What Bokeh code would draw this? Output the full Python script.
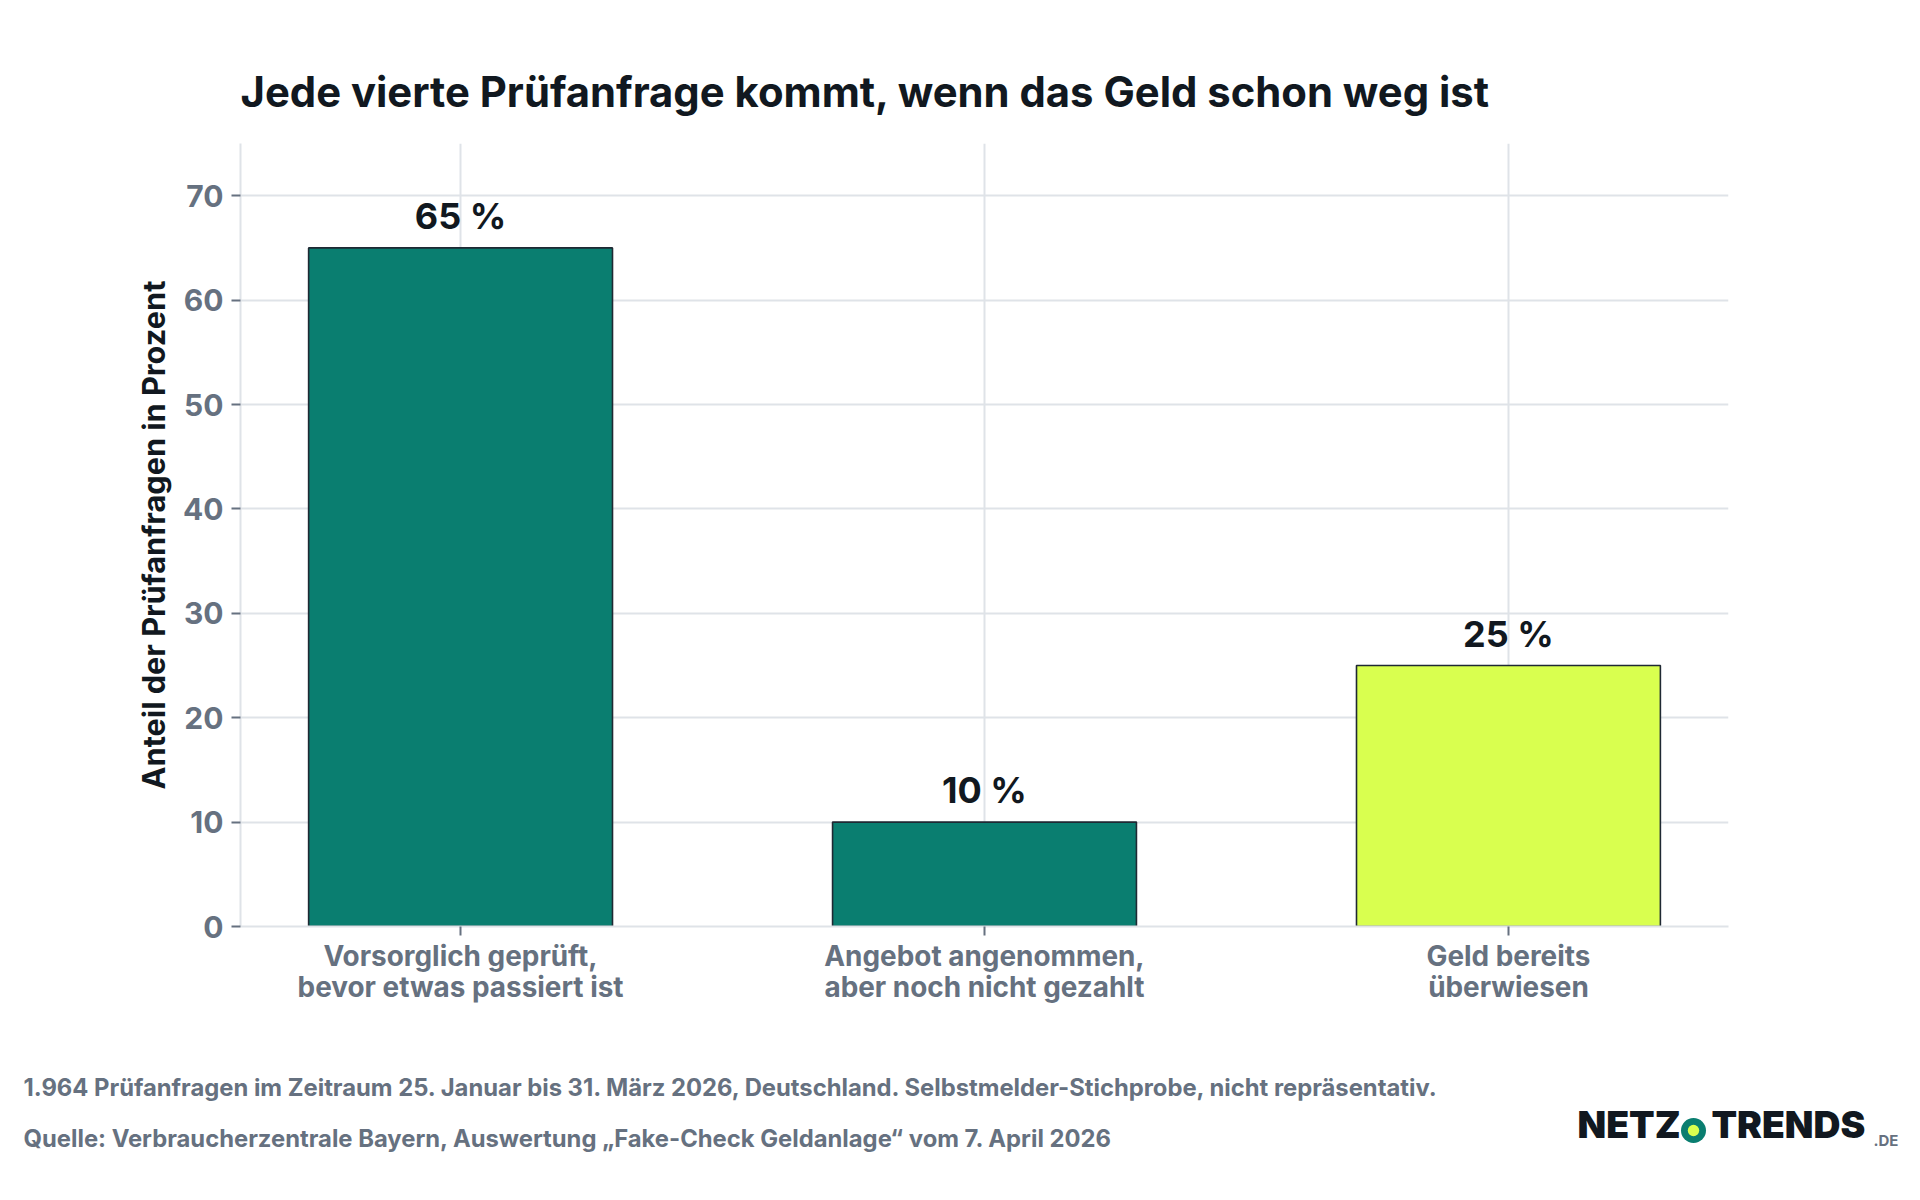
from bokeh.plotting import figure
from bokeh.layouts import column, row
from bokeh.core.properties import value
from bokeh.models import ColumnDataSource, FixedTicker, Range1d, LabelSet
from bokeh.embed import file_html
from bokeh.resources import INLINE

title = "Jede vierte Prüfanfrage kommt, wenn das Geld schon weg ist"
y_label = "Anteil der Prüfanfragen in Prozent"
categories = ["Vorsorglich geprüft,\nbevor etwas passiert ist",
              "Angebot angenommen,\naber noch nicht gezahlt",
              "Geld bereits\nüberwiesen"]
values = [65, 10, 25]
bar_colors = ["#0a7e70", "#0a7e70", "#d9ff4f"]
y_ticks = [0, 10, 20, 30, 40, 50, 60, 70]
footnotes = ["1.964 Prüfanfragen im Zeitraum 25. Januar bis 31. März 2026, Deutschland. Selbstmelder-Stichprobe, nicht repräsentativ.",
             "Quelle: Verbraucherzentrale Bayern, Auswertung „Fake-Check Geldanlage“ vom 7. April 2026"]

INK = "#111820"
GREY = "#667180"
GRID = "#dfe3e8"
FONT = "Inter"
W, H = 1904, 1184
TOP_H = 1040
F_L, F_B = 240, 926

xs = list(range(len(categories)))
src = ColumnDataSource(dict(x=xs, top=values, color=bar_colors,
                            label=[f"{v} %" for v in values]))

p = figure(width=W, height=TOP_H, output_backend="svg", toolbar_location=None,
           x_range=Range1d(-0.42, 2.42), y_range=Range1d(0, 75),
           min_border_left=F_L, min_border_right=W - 1728,
           min_border_top=143, min_border_bottom=TOP_H - F_B,
           outline_line_color=None, background_fill_color="white")

p.title.text = title
p.title.align = "left"
p.title.text_font = FONT
p.title.text_font_size = "41.8px"
p.title.text_font_style = "bold"
p.title.text_color = INK
p.title.standoff = 54

p.vbar(x="x", top="top", bottom=0, width=0.58, source=src, fill_color="color",
       line_color="#1f2933", line_width=1.6)
p.add_layout(LabelSet(x="x", y="top", text="label", source=src, text_align="center",
                      text_baseline="bottom", y_offset=10, text_font=value(FONT),
                      text_font_size=value("36px"), text_font_style="bold", text_color=INK))

p.xaxis.ticker = FixedTicker(ticks=xs)
p.xaxis.major_label_overrides = {i: c for i, c in zip(xs, categories)}
p.yaxis.ticker = FixedTicker(ticks=y_ticks)
p.yaxis.axis_label = y_label
p.yaxis.axis_label_text_font = FONT
p.yaxis.axis_label_text_font_size = "30.7px"
p.yaxis.axis_label_text_font_style = "bold"
p.yaxis.axis_label_text_color = INK
p.yaxis.axis_label_standoff = 8
for ax in (p.xaxis, p.yaxis):
    ax.axis_line_color = GRID
    ax.axis_line_width = 2
    ax.major_tick_in = 0
    ax.major_tick_out = 9
    ax.major_tick_line_color = GREY
    ax.major_tick_line_width = 2
    ax.minor_tick_line_color = None
    ax.major_label_text_font = FONT
    ax.major_label_text_font_style = "bold"
    ax.major_label_text_color = GREY
    ax.major_label_standoff = 8
p.xaxis.major_label_standoff = 3
p.xaxis.major_label_text_font_size = "27.9px"
p.xaxis.major_label_text_line_height = 0.92
p.yaxis.major_label_text_font_size = "30px"
p.grid.grid_line_color = GRID
p.grid.grid_line_width = 2
p.xgrid.ticker = FixedTicker(ticks=xs)
p.ygrid.ticker = FixedTicker(ticks=y_ticks)

# footer strip: its x and y ranges are plain page pixels
f = figure(width=W, height=H - TOP_H, output_backend="svg", toolbar_location=None,
           x_range=Range1d(0, W), y_range=Range1d(H, TOP_H),
           min_border=0, outline_line_color=None)
f.axis.visible = False
f.grid.visible = False

def text(x, y, s, size, color, style="bold", font=FONT):
    f.text(x=[x], y=[y], text=[s], text_font=value(font), text_font_size=value(size),
           text_font_style=style, text_color=color, text_baseline="alphabetic")

text(23, 1087, footnotes[0], "23.8px", GREY)
text(23, 1138, footnotes[1], "23.8px", GREY)
text(1577, 1137 - 13.5, "NETZ", "37.3px", INK, style="normal", font="Inter Black")
text(1711, 1137 - 13.5, "TRENDS", "37.3px", INK, style="normal", font="Inter Black")
text(1873, 1140, ".DE", "15px", GREY)
f.scatter(x=[1693], y=[1130], size=25, marker="circle", fill_color="#0a7e70", line_color=None)
f.scatter(x=[1693], y=[1130], size=11.4, marker="circle", fill_color="#d9ff4f", line_color=None)

open("out.html", "w").write(file_html(column(p, row(f), spacing=0), INLINE))
